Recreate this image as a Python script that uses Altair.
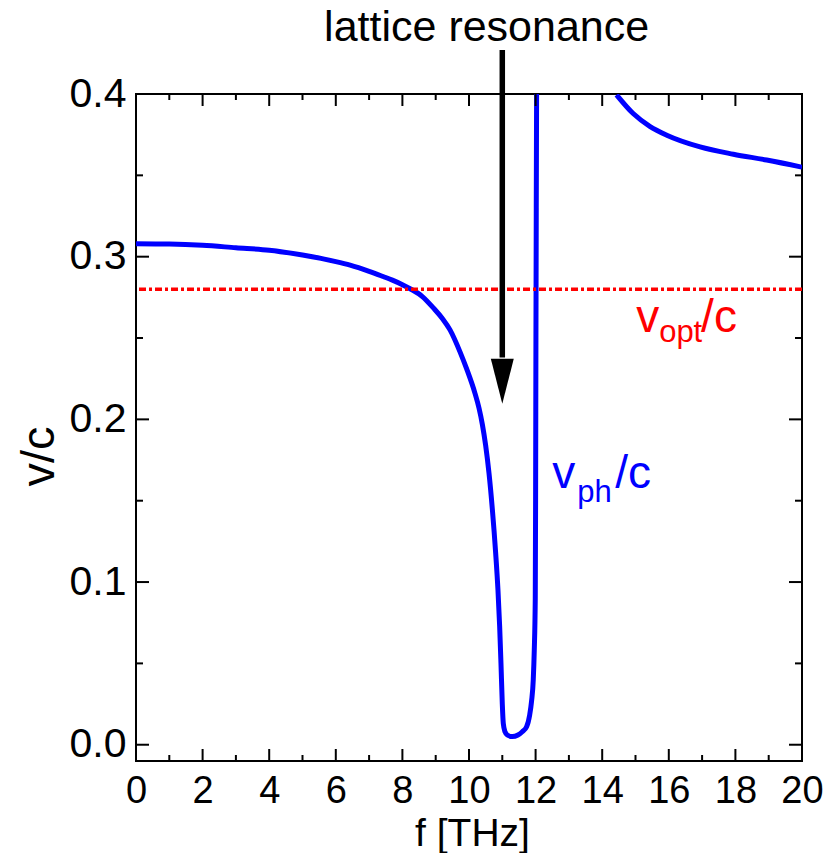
import altair as alt
import pandas as pd

# ---- data ----
low_f = [0.0, 1.0, 2.0, 3.0, 4.0, 5.0, 6.0, 6.43, 7.0, 7.42, 7.7, 8.0, 8.23, 8.6, 8.93, 9.2,
         9.43, 9.73, 9.93, 10.18, 10.3, 10.4, 10.5, 10.6, 10.7, 10.8, 10.87, 10.92, 10.96,
         11.0, 11.03, 11.08, 11.15, 11.3, 11.47, 11.6, 11.73, 11.82, 11.88, 11.93, 11.96,
         11.99, 12.0, 12.01, 12.02, 12.03]
low_v = [0.308, 0.3078, 0.307, 0.3055, 0.304, 0.301, 0.297, 0.2948, 0.291, 0.2878, 0.2856,
         0.2828, 0.2803, 0.2755, 0.2685, 0.262, 0.255, 0.2415, 0.231, 0.216, 0.207, 0.197,
         0.184, 0.167, 0.145, 0.118, 0.095, 0.073, 0.05, 0.025, 0.013, 0.008, 0.006, 0.005,
         0.006, 0.008, 0.011, 0.018, 0.027, 0.04, 0.058, 0.09, 0.15, 0.25, 0.33, 0.40]
up_f = [14.43, 14.93, 15.44, 15.94, 16.94, 17.94, 18.94, 20.0]
up_v = [0.3995, 0.388, 0.380, 0.3747, 0.3675, 0.363, 0.3594, 0.355]

x_major = list(range(0, 21, 2))
x_minor = list(range(1, 20, 2))
y_major = [0.0, 0.1, 0.2, 0.3, 0.4]
y_minor = [0.05, 0.15, 0.25, 0.35]

v_opt = [0.28]
arrow_f = [11.0]
arrow_top = [0.427]
arrow_base = [0.238]
arrow_head = [0.2234]

FONT = "Liberation Sans"
W, H = 666, 667

xs = alt.Scale(domain=[0, 20], nice=False, zero=False)
ys = alt.Scale(domain=[-0.01, 0.4], nice=False, zero=False)

low = pd.DataFrame({"f": low_f, "v": low_v, "i": list(range(len(low_f)))})
up = pd.DataFrame({"f": up_f, "v": up_v, "i": list(range(len(up_f)))})

x_axis = alt.Axis(values=x_major, format="d", ticks=False, domain=False, grid=False,
                  labelFontSize=38, labelFont=FONT, labelPadding=41, labelBaseline="alphabetic",
                  labelFlush=False, labelOverlap=False, labelColor="black",
                  title="f [THz]", titleFont=FONT, titleFontSize=39, titleFontWeight="normal",
                  titleColor="black", titleX=336, titleY=84, titleAlign="center",
                  titleBaseline="alphabetic")
y_axis = alt.Axis(values=y_major, format=".1f", ticks=False, domain=False, grid=False,
                  labelFontSize=41, labelFont=FONT, labelPadding=10, labelFlush=False,
                  labelOverlap=False, labelColor="black",
                  title="v/c", titleFont=FONT, titleFontSize=47, titleFontWeight="normal",
                  titleColor="black", titleAngle=270, titleX=-83, titleY=362,
                  titleAlign="center", titleBaseline="alphabetic")


def X(field):
    return alt.X(field, scale=xs, axis=x_axis)


def Y(field):
    return alt.Y(field, scale=ys, axis=y_axis)


lower = alt.Chart(low).mark_line(color="#0000ff", strokeWidth=5, clip=True,
                                 interpolate="monotone").encode(
    x=X("f:Q"), y=Y("v:Q"), order="i:Q")
upper = alt.Chart(up).mark_line(color="#0000ff", strokeWidth=5, clip=True,
                                interpolate="monotone").encode(
    x=X("f:Q"), y=Y("v:Q"), order="i:Q")

opt_line = alt.Chart(pd.DataFrame({"v": v_opt})).mark_rule(
    color="#ff0000", strokeWidth=3.5, strokeDash=[7, 3, 3, 3]).encode(y=Y("v:Q"))

arrow_df = pd.DataFrame({"f": arrow_f, "v": arrow_top, "v2": arrow_base, "h": arrow_head})
arrow_line = alt.Chart(arrow_df).mark_rule(color="black", strokeWidth=5.5, strokeCap="butt").encode(
    x=X("f:Q"), y=Y("v:Q"), y2="v2:Q")
arrow_tip = alt.Chart(arrow_df).mark_point(
    shape="M-0.51,-1L0.51,-1L0,1Z", filled=True, size=2025, color="black", opacity=1,
    strokeWidth=0).encode(x=X("f:Q"), y=Y("h:Q"))


def xticks(vals, length, top):
    df = pd.DataFrame({"f": vals})
    if top:
        yy, yy2 = alt.value(0), alt.value(length)
    else:
        yy, yy2 = alt.value(H), alt.value(H - length)
    return alt.Chart(df).mark_rule(color="black", strokeWidth=2).encode(
        x=X("f:Q"), y=yy, y2=yy2)


def yticks(vals, length, right):
    df = pd.DataFrame({"v": vals})
    if right:
        xx, xx2 = alt.value(W), alt.value(W - length)
    else:
        xx, xx2 = alt.value(0), alt.value(length)
    return alt.Chart(df).mark_rule(color="black", strokeWidth=2).encode(
        y=Y("v:Q"), x=xx, x2=xx2)


ticks = [
    xticks(x_major, 12, False), xticks(x_minor, 6, False),
    xticks(x_major, 12, True), xticks(x_minor, 6, True),
    yticks(y_major, 13, False), yticks(y_minor, 7, False),
    yticks(y_major, 13, True), yticks(y_minor, 7, True),
]


def label(text, f, v, size, color, align="left"):
    df = pd.DataFrame({"f": [f], "v": [v], "s": [text]})
    return alt.Chart(df).mark_text(
        font=FONT, fontSize=size, color=color, align=align, baseline="alphabetic").encode(
        x=X("f:Q"), y=Y("v:Q"), text="s:N")


texts = [
    label("lattice resonance", 10.53, 0.4325, 43, "black", "center"),
    label("v", 15.02, 0.2537, 46, "#ff0000"),
    label("opt", 15.71, 0.2476, 31, "#ff0000"),
    label("/c", 16.97, 0.2537, 46, "#ff0000"),
    label("v", 12.50, 0.1577, 46, "#0000ff"),
    label("ph", 13.25, 0.1491, 31, "#0000ff"),
    label("/c", 14.39, 0.1577, 46, "#0000ff"),
]

chart = alt.layer(lower, upper, opt_line, arrow_line, arrow_tip, *ticks, *texts).properties(
    width=W, height=H,
    autosize=alt.AutoSizeParams(type="none"),
    padding={"left": 136, "top": 94, "right": 24, "bottom": 92},
    background="white",
).configure(font=FONT).configure_view(stroke="black", strokeWidth=2)

chart.save("out.html", embed_options={"renderer": "svg", "actions": False})
